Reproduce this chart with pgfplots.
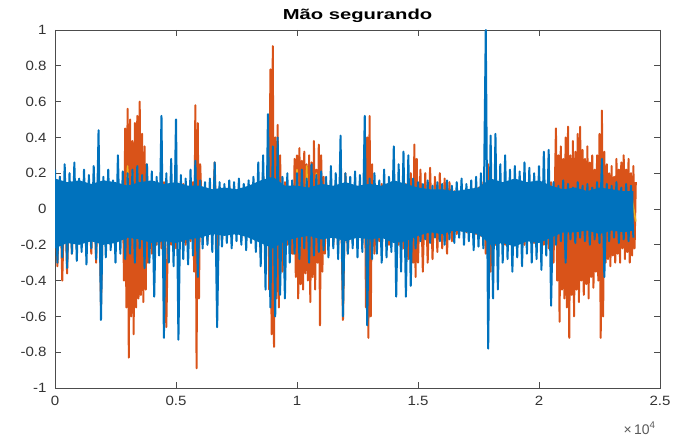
\documentclass[border=0pt]{standalone}
\usepackage{pgfplots}
\pgfplotsset{compat=1.18}
\usepackage{pgfplotstable}
\usepackage{fontspec}
\setmainfont{Liberation Sans}

\definecolor{mblue}{rgb}{0,0.447,0.741}
\definecolor{morange}{rgb}{0.85,0.325,0.098}
\definecolor{myellow}{rgb}{0.929,0.694,0.125}
\definecolor{axgray}{rgb}{0.3,0.3,0.3}
\newcommand\wide[1]{\scalebox{1.12}[1]{#1}}

% blue channel, one value every 100 samples
\pgfplotstableread[row sep=\\]{y\\
0.22\\ -0.30\\ 0.18\\ -0.27\\ 0.25\\ -0.33\\ 0.20\\ -0.25\\ 0.26\\ -0.29\\
0.17\\ -0.24\\ 0.22\\ -0.31\\ 0.19\\ -0.22\\ 0.24\\ -0.28\\ 0.44\\ -0.62\\
0.18\\ -0.27\\ 0.22\\ -0.23\\ 0.16\\ -0.30\\ 0.30\\ -0.25\\ 0.21\\ -0.28\\
0.20\\ -0.25\\ 0.22\\ -0.30\\ 0.24\\ -0.22\\ 0.19\\ -0.33\\ 0.25\\ -0.30\\
0.21\\ -0.49\\ 0.18\\ -0.26\\ 0.52\\ -0.72\\ 0.20\\ -0.30\\ 0.28\\ -0.32\\
0.50\\ -0.73\\ 0.19\\ -0.28\\ 0.17\\ -0.31\\ 0.22\\ -0.26\\ 0.27\\ -0.38\\
0.16\\ -0.22\\ 0.15\\ -0.20\\ 0.17\\ -0.24\\ 0.26\\ -0.66\\ 0.15\\ -0.21\\
0.14\\ -0.19\\ 0.16\\ -0.22\\ 0.15\\ -0.18\\ 0.17\\ -0.20\\ 0.14\\ -0.23\\
0.16\\ -0.19\\ 0.18\\ -0.24\\ 0.26\\ -0.32\\ 0.30\\ -0.45\\ 0.53\\ -0.55\\
0.35\\ -0.60\\ 0.40\\ -0.48\\ 0.18\\ -0.50\\ 0.20\\ -0.30\\ 0.16\\ -0.25\\
0.20\\ -0.28\\ 0.22\\ -0.22\\ 0.17\\ -0.30\\ 0.25\\ -0.26\\ 0.19\\ -0.24\\
0.21\\ -0.23\\ 0.18\\ -0.27\\ 0.24\\ -0.22\\ 0.20\\ -0.28\\ 0.41\\ -0.60\\
0.20\\ -0.25\\ 0.18\\ -0.22\\ 0.21\\ -0.27\\ 0.19\\ -0.24\\ 0.52\\ -0.65\\
0.17\\ -0.28\\ 0.20\\ -0.25\\ 0.16\\ -0.30\\ 0.22\\ -0.27\\ 0.18\\ -0.24\\
0.35\\ -0.49\\ 0.25\\ -0.35\\ 0.32\\ -0.49\\ 0.30\\ -0.43\\ 0.17\\ -0.22\\
0.15\\ -0.18\\ 0.14\\ -0.17\\ 0.16\\ -0.19\\ 0.13\\ -0.16\\ 0.15\\ -0.18\\
0.14\\ -0.20\\ 0.16\\ -0.17\\ 0.13\\ -0.19\\ 0.15\\ -0.16\\ 0.17\\ -0.20\\
0.14\\ -0.18\\ 0.16\\ -0.23\\ 0.18\\ -0.21\\ 0.20\\ -0.22\\ 1.00\\ -0.78\\
0.41\\ -0.50\\ 0.42\\ -0.45\\ 0.25\\ -0.30\\ 0.30\\ -0.28\\ 0.22\\ -0.35\\
0.24\\ -0.27\\ 0.21\\ -0.32\\ 0.26\\ -0.25\\ 0.23\\ -0.30\\ 0.20\\ -0.28\\
0.24\\ -0.34\\ 0.32\\ -0.26\\ 0.33\\ -0.54\\ 0.15\\ -0.20\\ 0.13\\ -0.18\\
0.16\\ -0.30\\ 0.14\\ -0.17\\ 0.12\\ -0.19\\ 0.15\\ -0.16\\ 0.13\\ -0.18\\
0.14\\ -0.20\\ 0.12\\ -0.17\\ 0.15\\ -0.19\\ 0.28\\ -0.38\\ 0.14\\ -0.18\\
0.13\\ -0.16\\ 0.15\\ -0.19\\ 0.12\\ -0.17\\ 0.14\\ -0.18\\ 0.13\\ -0.16\\
}\bluedata

% dense part of the blue channel: upper edge forward, lower edge back
\pgfplotstableread[row sep=\\]{x y\\
0 0.17\\ 500 0.15\\ 1000 0.16\\ 1500 0.14\\ 2000 0.16\\ 2500 0.15\\ 3000 0.13\\ 3500 0.15\\ 4000 0.16\\ 4500 0.14\\
5000 0.15\\ 5500 0.13\\ 6000 0.13\\ 6500 0.11\\ 7000 0.12\\ 7500 0.11\\ 8000 0.13\\ 8500 0.16\\ 9000 0.18\\ 9500 0.13\\
10000 0.13\\ 10500 0.12\\ 11000 0.14\\ 11500 0.13\\ 12000 0.15\\ 12500 0.13\\ 13000 0.14\\ 13500 0.13\\ 14000 0.16\\ 14500 0.14\\
15000 0.12\\ 15500 0.11\\ 16000 0.11\\ 16500 0.10\\ 17000 0.11\\ 17500 0.12\\ 18000 0.17\\ 18500 0.15\\ 19000 0.17\\ 19500 0.15\\
20000 0.16\\ 20500 0.13\\ 21000 0.11\\ 21500 0.12\\ 22000 0.10\\ 22500 0.12\\ 23000 0.11\\ 23500 0.10\\ 23900 0.10\\
23900 -0.12\\ 23500 -0.13\\ 23000 -0.12\\ 22500 -0.14\\ 22000 -0.12\\ 21500 -0.13\\ 21000 -0.13\\ 20500 -0.16\\ 20000 -0.19\\ 19500 -0.18\\
19000 -0.21\\ 18500 -0.19\\ 18000 -0.20\\ 17500 -0.14\\ 17000 -0.13\\ 16500 -0.12\\ 16000 -0.14\\ 15500 -0.13\\ 15000 -0.15\\ 14500 -0.18\\
14000 -0.19\\ 13500 -0.16\\ 13000 -0.17\\ 12500 -0.16\\ 12000 -0.18\\ 11500 -0.16\\ 11000 -0.17\\ 10500 -0.15\\ 10000 -0.16\\ 9500 -0.18\\
9000 -0.22\\ 8500 -0.19\\ 8000 -0.16\\ 7500 -0.14\\ 7000 -0.15\\ 6500 -0.14\\ 6000 -0.16\\ 5500 -0.17\\ 5000 -0.19\\ 4500 -0.18\\
4000 -0.19\\ 3500 -0.17\\ 3000 -0.16\\ 2500 -0.19\\ 2000 -0.20\\ 1500 -0.18\\ 1000 -0.20\\ 500 -0.19\\ 0 -0.22\\
}\bluecore

% orange channel
\pgfplotstableread[row sep=\\]{x y\\
0 0.15\\ 100 -0.32\\ 200 0.18\\ 300 -0.40\\ 400 0.14\\ 500 -0.36\\ 600 0.12\\ 700 -0.25\\ 800 0.16\\ 900 -0.22\\
1000 0.12\\ 1100 -0.20\\ 1200 0.14\\ 1300 -0.22\\ 1400 0.10\\ 1500 -0.25\\ 1600 0.15\\ 1700 -0.30\\ 1800 0.30\\ 1900 -0.54\\
2000 0.12\\ 2100 -0.18\\ 2200 0.10\\ 2300 -0.20\\ 2400 0.13\\ 2500 -0.19\\ 2600 0.11\\ 2700 -0.17\\ 2800 0.14\\
2850 -0.40\\ 2900 0.45\\ 2950 -0.55\\ 3000 0.56\\ 3050 -0.83\\ 3100 0.50\\ 3150 -0.60\\ 3200 0.38\\ 3250 -0.70\\ 3300 0.48\\
3350 -0.55\\ 3400 0.52\\ 3450 -0.50\\ 3500 0.60\\ 3550 -0.48\\ 3600 0.42\\ 3650 -0.52\\ 3700 0.35\\ 3750 -0.45\\ 3800 0.25\\ 3850 -0.30\\
3900 0.15\\ 4000 -0.25\\ 4100 0.12\\ 4200 -0.20\\ 4300 0.13\\ 4400 -0.22\\ 4500 0.15\\ 4600 -0.66\\ 4700 0.12\\ 4800 -0.20\\
4900 0.14\\ 5000 -0.22\\ 5100 0.12\\ 5200 -0.18\\ 5300 0.14\\ 5400 -0.20\\ 5500 0.12\\ 5600 -0.18\\ 5700 0.15\\
5750 -0.35\\ 5800 0.58\\ 5850 -0.89\\ 5900 0.48\\ 5950 -0.50\\ 6000 0.25\\
6100 -0.15\\ 6200 0.12\\ 6300 -0.18\\ 6400 0.10\\ 6500 -0.15\\ 6600 0.26\\ 6700 -0.33\\ 6800 0.12\\ 6900 -0.17\\ 7000 0.10\\
7100 -0.15\\ 7200 0.13\\ 7300 -0.16\\ 7400 0.11\\ 7500 -0.14\\ 7600 0.12\\ 7700 -0.16\\ 7800 0.10\\ 7900 -0.15\\ 8000 0.12\\
8100 -0.17\\ 8200 0.11\\ 8300 -0.18\\
8400 0.15\\ 8500 -0.25\\ 8600 0.20\\ 8700 -0.30\\ 8800 0.30\\ 8850 -0.45\\ 8900 0.78\\ 8950 -0.70\\ 9000 0.91\\ 9050 -0.77\\
9100 0.40\\ 9150 -0.50\\ 9200 0.47\\ 9250 -0.55\\ 9300 0.30\\ 9400 -0.35\\ 9500 0.15\\ 9600 -0.20\\ 9700 0.12\\ 9800 -0.25\\
9850 -0.25\\ 9900 0.28\\ 9950 -0.38\\ 10000 0.30\\ 10050 -0.50\\ 10100 0.34\\ 10150 -0.42\\ 10200 0.27\\ 10250 -0.45\\ 10300 0.32\\
10350 -0.36\\ 10400 0.25\\ 10450 -0.40\\ 10500 0.30\\ 10550 -0.52\\ 10600 0.26\\ 10650 -0.38\\ 10700 0.38\\ 10750 -0.45\\ 10800 0.22\\
10850 -0.30\\ 10900 0.36\\ 10950 -0.65\\ 11000 0.30\\ 11050 -0.35\\ 11100 0.18\\ 11150 -0.25\\ 11200 0.15\\
11300 -0.18\\ 11400 0.12\\ 11500 -0.20\\ 11600 0.14\\ 11700 -0.22\\ 11800 0.22\\ 11900 -0.62\\ 12000 0.20\\ 12100 -0.25\\ 12200 0.12\\
12300 -0.18\\ 12400 0.10\\ 12500 -0.16\\ 12600 0.14\\ 12700 -0.20\\
12800 0.30\\ 12850 -0.55\\ 12900 0.40\\ 12950 -0.72\\ 13000 0.52\\ 13050 -0.60\\ 13100 0.25\\ 13200 -0.25\\
13300 0.12\\ 13400 -0.18\\ 13500 0.14\\ 13600 -0.16\\ 13700 0.11\\ 13800 -0.20\\ 13900 0.13\\ 14000 -0.18\\ 14100 0.15\\ 14200 -0.20\\
14300 0.12\\ 14400 -0.22\\ 14500 0.14\\ 14600 -0.28\\ 14700 0.20\\
14800 -0.30\\ 14850 0.36\\ 14900 -0.38\\ 14950 0.28\\ 15000 -0.30\\ 15100 0.22\\ 15200 -0.35\\ 15300 0.20\\ 15400 -0.30\\ 15500 0.23\\
15600 -0.28\\ 15700 0.18\\ 15800 -0.24\\ 15900 0.20\\ 16000 -0.22\\ 16100 0.17\\ 16200 -0.25\\ 16300 0.15\\ 16400 -0.18\\
16500 0.10\\ 16600 -0.14\\ 16700 0.09\\ 16800 -0.12\\ 16900 0.10\\ 17000 -0.13\\ 17100 0.09\\ 17200 -0.12\\ 17300 0.10\\ 17400 -0.14\\
17500 0.12\\ 17600 -0.15\\ 17700 0.15\\ 17800 -0.25\\ 17900 0.25\\ 18000 -0.35\\ 18100 0.15\\ 18200 -0.20\\
18300 0.12\\ 18400 -0.18\\ 18500 0.14\\ 18600 -0.20\\ 18700 0.12\\ 18800 -0.17\\ 18900 0.13\\ 19000 -0.19\\ 19100 0.11\\ 19200 -0.18\\
19300 0.14\\ 19400 -0.20\\ 19500 0.12\\ 19600 -0.16\\ 19700 0.13\\ 19800 -0.19\\ 19900 0.12\\ 20000 -0.18\\ 20100 0.13\\ 20200 -0.20\\
20300 0.12\\ 20400 -0.22\\ 20500 0.15\\ 20600 -0.30\\
20700 0.45\\ 20750 -0.40\\ 20800 0.30\\ 20850 -0.63\\ 20900 0.35\\ 20950 -0.45\\ 21000 0.28\\ 21050 -0.50\\ 21100 0.40\\ 21150 -0.55\\
21200 0.46\\ 21250 -0.72\\ 21300 0.30\\ 21350 -0.48\\ 21400 0.38\\ 21450 -0.60\\ 21500 0.32\\ 21550 -0.45\\ 21600 0.42\\ 21650 -0.52\\
21700 0.46\\ 21750 -0.40\\ 21800 0.33\\ 21850 -0.48\\ 21900 0.28\\ 21950 -0.42\\ 22000 0.35\\ 22050 -0.50\\ 22100 0.26\\ 22150 -0.38\\
22200 0.30\\ 22250 -0.44\\ 22300 0.22\\ 22350 -0.35\\ 22400 0.30\\ 22450 -0.40\\ 22500 0.42\\ 22550 -0.72\\ 22600 0.55\\ 22650 -0.60\\
22700 0.32\\ 22750 -0.30\\ 22800 0.25\\ 22850 -0.28\\ 22900 0.20\\ 22950 -0.32\\ 23000 0.24\\ 23050 -0.26\\ 23100 0.18\\ 23150 -0.30\\
23200 0.28\\ 23250 -0.25\\ 23300 0.22\\ 23350 -0.30\\ 23400 0.26\\ 23450 -0.22\\ 23500 0.30\\ 23550 -0.28\\ 23600 0.22\\ 23650 -0.24\\
23700 0.28\\ 23750 -0.30\\ 23800 0.20\\ 23850 -0.26\\ 23900 0.24\\ 23950 -0.22\\ 24000 0.15\\
}\orangedata

% yellow channel
\pgfplotstableread[row sep=\\]{x y\\
0 0.08\\ 200 -0.10\\ 400 0.09\\ 600 -0.08\\ 800 0.10\\ 1000 -0.09\\ 1200 0.08\\ 1400 -0.10\\ 1600 0.09\\ 1800 -0.12\\
2000 0.08\\ 2200 -0.09\\ 2400 0.10\\ 2600 -0.08\\ 2800 0.12\\ 2900 -0.18\\ 3000 0.24\\ 3100 -0.15\\ 3200 0.20\\ 3300 -0.25\\
3400 0.22\\ 3500 -0.20\\ 3600 0.18\\ 3700 -0.12\\ 3800 0.10\\ 4000 -0.09\\ 4200 0.08\\ 4400 -0.10\\ 4600 0.09\\ 4800 -0.08\\
5000 0.10\\ 5200 -0.09\\ 5400 0.08\\ 5600 -0.10\\ 5800 0.12\\ 6000 -0.09\\ 6200 0.08\\ 6400 -0.07\\ 6600 0.09\\ 6800 -0.08\\
7000 0.07\\ 7200 -0.08\\ 7400 0.08\\ 7600 -0.07\\ 7800 0.09\\ 8000 -0.08\\ 8200 0.07\\ 8400 -0.09\\ 8600 0.10\\ 8800 -0.12\\
9000 0.12\\ 9200 -0.10\\ 9400 0.08\\ 9600 -0.09\\ 9800 0.10\\ 9900 -0.15\\ 10000 0.22\\ 10100 -0.22\\ 10200 0.15\\ 10300 -0.18\\
10400 0.24\\ 10500 -0.16\\ 10600 0.14\\ 10700 -0.12\\ 10800 0.20\\ 10900 -0.10\\ 11000 0.08\\ 11200 -0.09\\ 11400 0.08\\ 11600 -0.10\\
11800 0.09\\ 12000 -0.08\\ 12200 0.10\\ 12400 -0.09\\ 12600 0.08\\ 12800 -0.11\\ 13000 0.10\\ 13200 -0.12\\ 13400 0.13\\ 13600 -0.10\\
13800 0.12\\ 14000 -0.09\\ 14200 0.08\\ 14400 -0.10\\ 14600 0.09\\ 14800 -0.08\\ 15000 0.10\\ 15200 -0.09\\ 15400 0.08\\ 15600 -0.07\\
15800 0.08\\ 16000 -0.07\\ 16200 0.07\\ 16400 -0.08\\ 16600 0.07\\ 16800 -0.06\\ 17000 0.07\\ 17200 -0.08\\ 17400 0.07\\ 17600 -0.08\\
17800 0.09\\ 18000 -0.10\\ 18200 0.08\\ 18400 -0.09\\ 18600 0.08\\ 18800 -0.07\\ 19000 0.09\\ 19200 -0.08\\ 19400 0.07\\ 19600 -0.09\\
19800 0.08\\ 20000 -0.07\\ 20200 0.09\\ 20400 -0.08\\ 20600 0.10\\ 20800 -0.09\\ 21000 0.08\\ 21200 -0.10\\ 21400 0.09\\ 21600 -0.08\\
21800 0.10\\ 22000 -0.09\\ 22200 0.08\\ 22400 -0.10\\ 22600 0.15\\ 22800 -0.09\\ 23000 0.08\\ 23200 -0.10\\ 23400 0.09\\ 23600 -0.08\\
23800 0.09\\ 24000 -0.07\\
}\yellowdata

\begin{document}
\begin{tikzpicture}
\useasboundingbox (-55bp,-49bp) rectangle (629bp,388bp);
\begin{axis}[
    scale only axis,
    width=605bp, height=358bp,
    at={(0,0)}, anchor=south west,
    xmin=0, xmax=25000,
    ymin=-1, ymax=1,
    xtick={0,5000,10000,15000,20000,25000},
    xticklabels={\wide{0},\wide{0.5},\wide{1},\wide{1.5},\wide{2},\wide{2.5}},
    ytick={-1,-0.8,-0.6,-0.4,-0.2,0,0.2,0.4,0.6,0.8,1},
    yticklabels={\wide{-1},\wide{-0.8},\wide{-0.6},\wide{-0.4},\wide{-0.2},\wide{0},\wide{0.2},\wide{0.4},\wide{0.6},\wide{0.8},\wide{1}},
    scaled x ticks=false,
    tick align=inside,
    major tick length=6bp,
    tick style={axgray, line width=0.6bp},
    axis line style={axgray, line width=0.8bp},
    ticklabel style={font=\fontsize{13.5}{15}\selectfont, text=black!80},
    xticklabel style={yshift=-5bp},
    yticklabel style={xshift=-5bp},
    clip=true,
]
\addplot[morange, line width=2bp, line join=round] table[x=x, y=y] {\orangedata};
\addplot[myellow, line width=1.6bp, line join=round] table[x=x, y=y] {\yellowdata};
\addplot[mblue, fill=mblue, draw=none] table[x=x, y=y] {\bluecore} -- cycle;
\addplot[mblue, line width=2bp, line join=round] table[x expr=\coordindex*100, y=y] {\bluedata};
\end{axis}
\node[anchor=base, font=\bfseries\fontsize{14.5}{16}\selectfont] at (302.5bp,368bp) {\scalebox{1.4}[1]{Mão segurando}};
\node[anchor=base east, font=\fontsize{14}{16}\selectfont, text=black!65] at (604bp,-46bp) {×\,10\textsuperscript{4}};
\end{tikzpicture}
\end{document}
